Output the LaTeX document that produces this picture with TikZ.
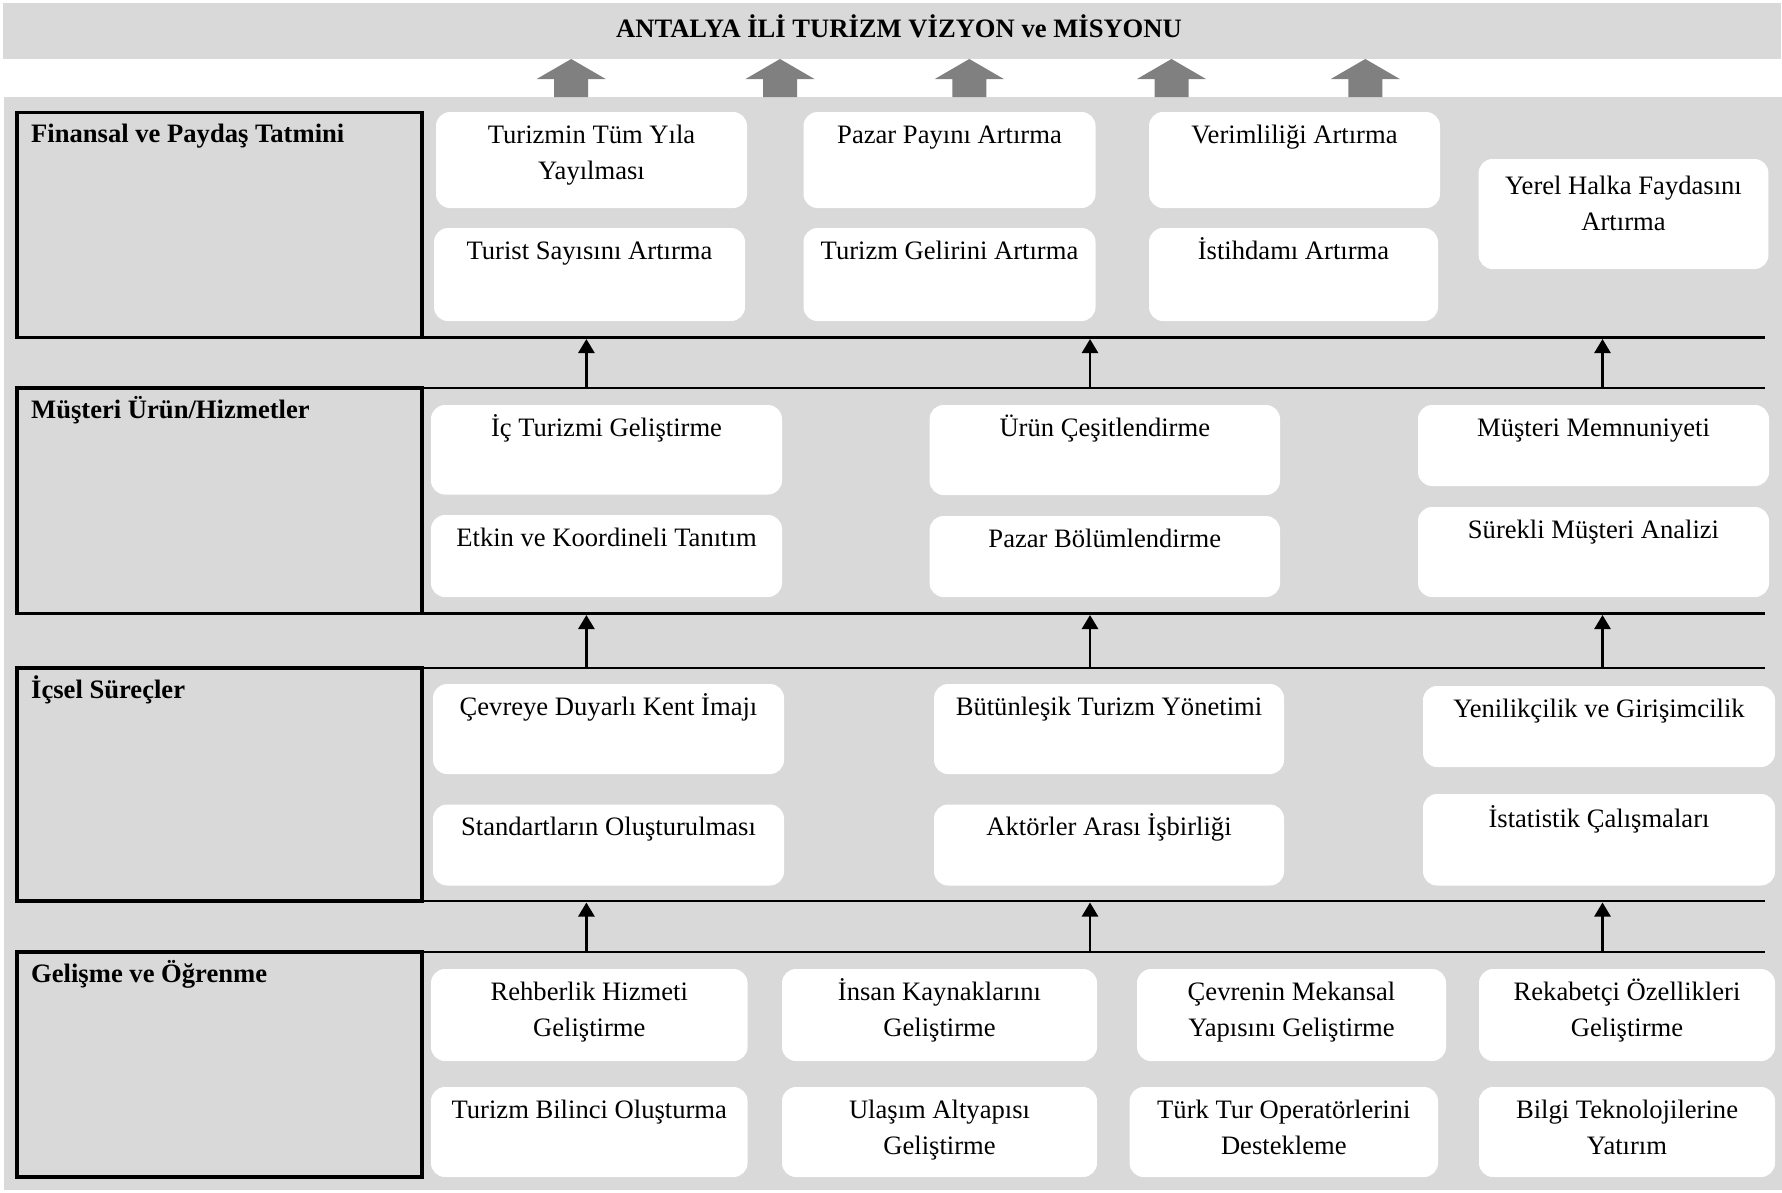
\documentclass[tikz,border=0pt]{standalone}
\usepackage{fontspec}
\setmainfont{Liberation Serif}
\usetikzlibrary{arrows.meta}
\definecolor{bandgray}{HTML}{D9D9D9}
\definecolor{arrgray}{HTML}{808080}
\newcommand\tstrut{\rule{0pt}{25bp}}
% \wb[offset]{name}{x1}{y1}{x2}{y2}{text}
\newcommand\wb[7][6]{%
  \node[wbox, minimum width={(#5-#3)*1bp}, minimum height={(#6-#4)*1bp}, anchor=north west] (#2) at (#3,#4) {};
  \node[wtxt, anchor=north] (#2t) at ([yshift=-#1bp]#2.north) {\tstrut #7};
}
\begin{document}
\begin{tikzpicture}[x=1bp,y=-1bp,
  wbox/.style={fill=white, draw=none, rounded corners=14bp, inner sep=0pt, outer sep=0pt},
  wtxt/.style={font=\fontsize{26.6bp}{36bp}\selectfont, align=center, inner sep=0pt},
  lbox/.style={draw=black, line width=3.2bp, inner sep=0pt, outer sep=0pt, anchor=north west},
  lbl/.style={font=\bfseries\fontsize{26.6bp}{36bp}\selectfont, inner sep=0pt, anchor=base west},
  hline/.style={line width=2.8bp},
  barrow/.style={line width=2.6bp, -{Triangle[width=16bp,length=14bp]}},
  garrow/.style={fill=arrgray}]
\useasboundingbox[fill=white] (0,0) rectangle (1782,1192);
% title band
\fill[bandgray] (3,3) rectangle (1781,59);
\node[lbl, anchor=base] (title) at (899,37.5) {ANTALYA İLİ TURİZM VİZYON ve MİSYONU};
% main band
\fill[bandgray] (4,97) rectangle (1782,1190);
% grey block arrows
\foreach \cx in {571.2,780,969.3,1171.5,1365.3}{
  \fill[garrow] ({\cx-17},97) -- ({\cx-17},79) -- ({\cx-34.5},79) -- (\cx,59)
    -- ({\cx+34.5},79) -- ({\cx+17},79) -- ({\cx+17},97) -- cycle;
}
% left boxes
\node[lbox, minimum width=405bp, minimum height=224.8bp] (L1) at (17,112.7) {};
\node[lbox, minimum width=405bp, minimum height=225.5bp] (L2) at (17,388) {};
\node[lbox, minimum width=405bp, minimum height=233bp] (L3) at (17,668) {};
\node[lbox, minimum width=405bp, minimum height=225bp] (L4) at (17,952) {};
\node[lbl] (l1t) at (31,142.7) {Finansal ve Paydaş Tatmini};
\node[lbl] (l2t) at (31,418) {Müşteri Ürün/Hizmetler};
\node[lbl] (l3t) at (31,698) {İçsel Süreçler};
\node[lbl] (l4t) at (31,982) {Gelişme ve Öğrenme};
% horizontal lines
\foreach \n/\y in {1/337.5,2/388,3/613.5,4/668,5/901,6/952}{
  \coordinate (h\n a) at (422,\y);
  \coordinate (h\n b) at (1765,\y);
  \draw[hline] (h\n a) -- (h\n b);
}
% black arrows
\foreach \r/\ys/\ye in {1/388/339,2/668/615,3/952/902.5}{
  \foreach \k/\x in {1/586.4,2/1090,3/1602.5}{
    \coordinate (s\r\k) at (\x,\ys);
    \coordinate (e\r\k) at (\x,\ye);
    \draw[barrow] (s\r\k) -- (e\r\k);
  }
}
% row 1
\wb{a1}{436}{112}{747}{208}{Turizmin Tüm Yıla\\Yayılması}
\wb{a2}{434}{228}{745}{321}{Turist Sayısını Artırma}
\wb{b1}{803.5}{112}{1095.5}{208}{Pazar Payını Artırma}
\wb{b2}{803.5}{228}{1095.5}{321}{Turizm Gelirini Artırma}
\wb{c1}{1149}{112}{1440}{208}{Verimliliği Artırma}
\wb{c2}{1149}{228}{1438}{321}{İstihdamı Artırma}
\wb[10]{d1}{1478.6}{159}{1768.4}{269}{Yerel Halka Faydasını\\Artırma}
% row 2
\wb{e1}{431}{405}{782}{494.5}{İç Turizmi Geliştirme}
\wb{e2}{431}{515}{782}{597}{Etkin ve Koordineli Tanıtım}
\wb{f1}{929.6}{405}{1280}{495}{Ürün Çeşitlendirme}
\wb{f2}{929.6}{516}{1280}{597}{Pazar Bölümlendirme}
\wb{g1}{1418}{405}{1769}{486}{Müşteri Memnuniyeti}
\wb{g2}{1418}{507}{1769}{597}{Sürekli Müşteri Analizi}
% row 3
\wb{h1}{433}{684}{784}{774}{Çevreye Duyarlı Kent İmajı}
\wb{h2}{433}{804.5}{784}{885.5}{Standartların Oluşturulması}
\wb{i1}{934}{684}{1284}{774}{Bütünleşik Turizm Yönetimi}
\wb{i2}{934}{804.5}{1284}{885.5}{Aktörler Arası İşbirliği}
\wb{j1}{1423}{686}{1775}{767}{Yenilikçilik ve Girişimcilik}
\wb[8]{j2}{1423}{794}{1775}{885.5}{İstatistik Çalışmaları}
% row 4
\wb{k1}{431}{969}{747.5}{1061}{Rehberlik Hizmeti\\Geliştirme}
\wb{k2}{431}{1087}{747.5}{1177}{Turizm Bilinci Oluşturma}
\wb{l1}{782}{969}{1097}{1061}{İnsan Kaynaklarını\\Geliştirme}
\wb{l2}{782}{1087}{1097}{1177}{Ulaşım Altyapısı\\Geliştirme}
\wb{m1}{1137}{969}{1446}{1061}{Çevrenin Mekansal\\Yapısını Geliştirme}
\wb{m2}{1129.6}{1087}{1438}{1177}{Türk Tur Operatörlerini\\Destekleme}
\wb{n1}{1479}{969}{1775}{1061}{Rekabetçi Özellikleri\\Geliştirme}
\wb{n2}{1479}{1087}{1775}{1177}{Bilgi Teknolojilerine\\Yatırım}
\end{tikzpicture}
\end{document}
